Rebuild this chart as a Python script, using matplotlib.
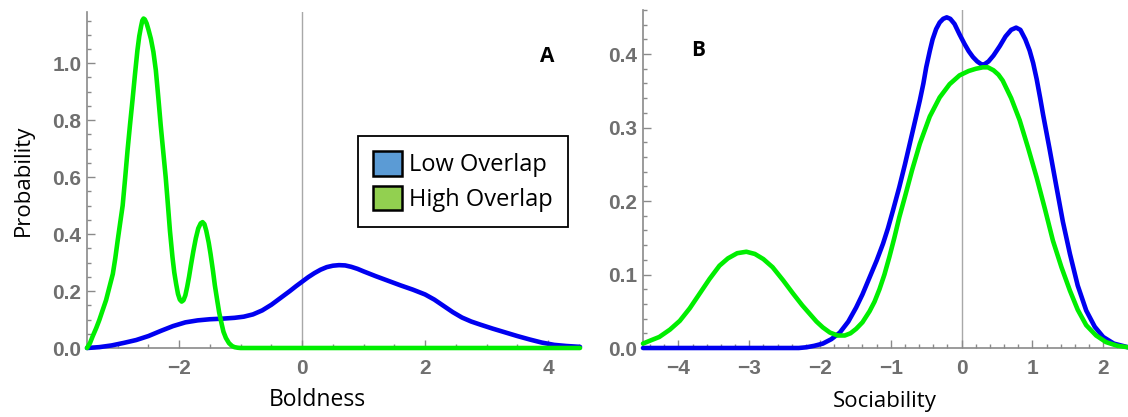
import matplotlib
matplotlib.use("Agg")
import matplotlib.pyplot as plt
from matplotlib.patches import Patch
from matplotlib.ticker import MultipleLocator

# Panel A: Boldness densities
bold_x_low = [-3.50, -3.30, -3.10, -2.90, -2.70, -2.50, -2.30, -2.10, -1.90, -1.70,
              -1.50, -1.30, -1.10, -0.95, -0.80, -0.65, -0.50, -0.35, -0.20, -0.10,
              0.00, 0.10, 0.20, 0.30, 0.40, 0.50, 0.60, 0.70, 0.80, 0.90,
              1.00, 1.20, 1.40, 1.60, 1.80, 2.00, 2.15, 2.30, 2.45, 2.60,
              2.75, 2.90, 3.10, 3.30, 3.50, 3.70, 3.90, 4.10, 4.30, 4.52]
bold_y_low = [0.000, 0.003, 0.009, 0.018, 0.028, 0.042, 0.060, 0.077, 0.090, 0.097,
              0.101, 0.103, 0.106, 0.110, 0.118, 0.132, 0.152, 0.176, 0.200, 0.217,
              0.233, 0.249, 0.263, 0.275, 0.284, 0.289, 0.291, 0.290, 0.285, 0.278,
              0.269, 0.252, 0.236, 0.220, 0.205, 0.188, 0.170, 0.148, 0.126, 0.107,
              0.093, 0.082, 0.068, 0.055, 0.042, 0.030, 0.019, 0.011, 0.007, 0.004]

bold_x_high = [-3.50, -3.45, -3.41, -3.35, -3.30, -3.25, -3.19, -3.14, -3.08, -3.04,
               -3.00, -2.96, -2.92, -2.88, -2.84, -2.80, -2.76, -2.72, -2.68, -2.65,
               -2.62, -2.60, -2.58, -2.56, -2.53, -2.50, -2.46, -2.42, -2.38, -2.34,
               -2.30, -2.26, -2.22, -2.19, -2.15, -2.11, -2.08, -2.05, -2.02, -1.99,
               -1.96, -1.93, -1.90, -1.87, -1.84, -1.81, -1.77, -1.73, -1.69, -1.65,
               -1.62, -1.59, -1.56, -1.52, -1.49, -1.45, -1.42, -1.38, -1.35, -1.31,
               -1.28, -1.24, -1.19, -1.14, -1.10, -1.05, -1.00, 4.52]
bold_y_high = [0.000, 0.018, 0.040, 0.070, 0.098, 0.130, 0.168, 0.210, 0.260, 0.315,
               0.379, 0.440, 0.500, 0.595, 0.695, 0.785, 0.870, 0.960, 1.045, 1.095,
               1.130, 1.150, 1.157, 1.154, 1.140, 1.118, 1.085, 1.040, 0.975, 0.880,
               0.780, 0.690, 0.600, 0.520, 0.410, 0.320, 0.265, 0.225, 0.190, 0.170,
               0.163, 0.168, 0.185, 0.215, 0.250, 0.290, 0.340, 0.385, 0.420, 0.438,
               0.442, 0.435, 0.412, 0.370, 0.330, 0.270, 0.220, 0.165, 0.125, 0.085,
               0.057, 0.035, 0.017, 0.007, 0.003, 0.001, 0.000, 0.000]

# Panel B: Sociability densities
soc_x_low = [-4.50, -2.30, -2.19, -2.08, -1.96, -1.84, -1.72, -1.60, -1.49, -1.40,
             -1.30, -1.20, -1.11, -1.04, -0.97, -0.88, -0.80, -0.72, -0.65, -0.59,
             -0.54, -0.50, -0.45, -0.41, -0.36, -0.31, -0.26, -0.21, -0.16, -0.10,
             -0.03, 0.04, 0.10, 0.16, 0.22, 0.28, 0.32, 0.38, 0.45, 0.54,
             0.62, 0.70, 0.77, 0.83, 0.90, 0.96, 1.01, 1.06, 1.11, 1.15,
             1.24, 1.34, 1.43, 1.53, 1.64, 1.76, 1.88, 2.00, 2.15, 2.35]
soc_y_low = [0.000, 0.000, 0.001, 0.003, 0.006, 0.012, 0.021, 0.036, 0.055, 0.073,
             0.096, 0.119, 0.142, 0.163, 0.187, 0.219, 0.250, 0.283, 0.312, 0.337,
             0.360, 0.382, 0.404, 0.420, 0.434, 0.443, 0.448, 0.450, 0.448, 0.441,
             0.427, 0.414, 0.404, 0.396, 0.390, 0.386, 0.386, 0.390, 0.398, 0.411,
             0.424, 0.433, 0.436, 0.433, 0.420, 0.405, 0.388, 0.366, 0.340, 0.318,
             0.272, 0.219, 0.172, 0.128, 0.085, 0.051, 0.029, 0.015, 0.006, 0.001]

soc_x_high = [-4.50, -4.40, -4.27, -4.12, -3.98, -3.84, -3.70, -3.56, -3.42, -3.30,
              -3.17, -3.04, -2.92, -2.80, -2.67, -2.52, -2.38, -2.25, -2.15, -2.05,
              -1.96, -1.86, -1.75, -1.65, -1.57, -1.49, -1.40, -1.30, -1.23, -1.16,
              -1.09, -1.02, -0.95, -0.88, -0.80, -0.70, -0.59, -0.45, -0.31, -0.17,
              -0.03, 0.10, 0.20, 0.30, 0.37, 0.45, 0.52, 0.58, 0.70, 0.82,
              0.94, 1.06, 1.18, 1.29, 1.41, 1.53, 1.64, 1.76, 1.90, 2.04,
              2.20, 2.35]
soc_y_high = [0.006, 0.010, 0.015, 0.025, 0.037, 0.054, 0.074, 0.094, 0.112, 0.122,
              0.129, 0.131, 0.128, 0.121, 0.110, 0.092, 0.074, 0.058, 0.047, 0.036,
              0.028, 0.021, 0.017, 0.017, 0.020, 0.026, 0.035, 0.050, 0.063, 0.080,
              0.100, 0.124, 0.150, 0.178, 0.206, 0.242, 0.278, 0.315, 0.341, 0.359,
              0.371, 0.377, 0.380, 0.382, 0.382, 0.378, 0.372, 0.364, 0.340, 0.310,
              0.272, 0.232, 0.188, 0.146, 0.110, 0.078, 0.052, 0.031, 0.017, 0.008,
              0.003, 0.001]

legend_labels = ["Low Overlap", "High Overlap"]
legend_colors = ["#5b9bd5", "#92d050"]

LOW_COLOR = "#0000f0"
HIGH_COLOR = "#00ee00"
AXIS_GRAY = "#8a8a8a"
TICK_GRAY = "#6f6f6f"
LABEL_FONT = ["Open Sans", "DejaVu Sans"]
TICK_FONT = ["Liberation Sans", "DejaVu Sans"]

fig = plt.figure(figsize=(11.28, 4.17), dpi=100)
ax_a = fig.add_axes([87 / 1128, 1 - 348 / 417, 493 / 1128, 336 / 417])
ax_b = fig.add_axes([643 / 1128, 1 - 348 / 417, 485 / 1128, 338 / 417])


def style_axis(ax, xlim, ylim, xmaj, xmin, ymaj, ymin):
    ax.set_xlim(*xlim)
    ax.set_ylim(*ylim)
    for side in ["top", "right"]:
        ax.spines[side].set_visible(False)
    for side in ["left", "bottom"]:
        ax.spines[side].set_color(AXIS_GRAY)
        ax.spines[side].set_linewidth(1.2)
    ax.axvline(0, color="#a8a8a8", lw=1.0, zorder=1)
    ax.xaxis.set_major_locator(MultipleLocator(xmaj))
    ax.xaxis.set_minor_locator(MultipleLocator(xmin))
    ax.yaxis.set_major_locator(MultipleLocator(ymaj))
    ax.yaxis.set_minor_locator(MultipleLocator(ymin))
    ax.yaxis.set_major_formatter(lambda v, p: f"{v:.1f}")
    ax.xaxis.set_major_formatter(lambda v, p: f"{v:.0f}".replace("-", "\u2212"))
    ax.tick_params(which="both", direction="in", color=AXIS_GRAY, width=1.0)
    ax.tick_params(which="major", length=5.5)
    ax.tick_params(which="minor", length=3)
    ax.tick_params(axis="x", which="major", pad=8)
    ax.tick_params(axis="y", which="major", pad=4)
    for lab in ax.get_xticklabels() + ax.get_yticklabels():
        lab.set_family(TICK_FONT)
        lab.set_fontweight("bold")
        lab.set_fontsize(15)
        lab.set_color(TICK_GRAY)


style_axis(ax_a, (-3.5, 4.52), (0, 1.18), 2, 0.5, 0.2, 0.05)
style_axis(ax_b, (-4.5, 2.35), (0, 0.46), 1, 0.2, 0.1, 0.02)

line_kw = dict(lw=3.3, clip_on=False, solid_capstyle="round", solid_joinstyle="round")
ax_a.plot(bold_x_low, bold_y_low, color=LOW_COLOR, zorder=3, **line_kw)
ax_a.plot(bold_x_high, bold_y_high, color=HIGH_COLOR, zorder=4, **line_kw)
ax_b.plot(soc_x_low, soc_y_low, color=LOW_COLOR, zorder=3, **line_kw)
ax_b.plot(soc_x_high, soc_y_high, color=HIGH_COLOR, zorder=4, **line_kw)

# panel letters
fig.text(547 / 1128, 1 - 57 / 417, "A", ha="center", va="center",
         fontsize=15, fontweight="bold", family=LABEL_FONT)
fig.text(698 / 1128, 1 - 50 / 417, "B", ha="center", va="center",
         fontsize=15, fontweight="bold", family=LABEL_FONT)

# axis titles
fig.text(317 / 1128, 1 - 400 / 417, "Boldness", ha="center", va="center",
         fontsize=16.5, family=LABEL_FONT)
fig.text(885 / 1128, 1 - 402 / 417, "Sociability", ha="center", va="center",
         fontsize=16, family=LABEL_FONT)
fig.text(23 / 1128, 1 - 180 / 417, "Probability", ha="center", va="center",
         rotation=90, fontsize=16, family=LABEL_FONT)

handles = [Patch(facecolor=c, edgecolor="black", linewidth=1.8) for c in legend_colors]
leg = ax_a.legend(handles, legend_labels, loc="upper left",
                  bbox_to_anchor=(358 / 1128, 1 - 136 / 417),
                  bbox_transform=fig.transFigure, frameon=True, fancybox=False,
                  edgecolor="black", framealpha=1, borderpad=0.65,
                  handlelength=1.2, handleheight=1.2, handletextpad=0.3,
                  labelspacing=0.35, borderaxespad=0,
                  prop={"family": LABEL_FONT, "size": 17})
leg.get_frame().set_linewidth(1.3)

fig.savefig("out.png", dpi=100)
